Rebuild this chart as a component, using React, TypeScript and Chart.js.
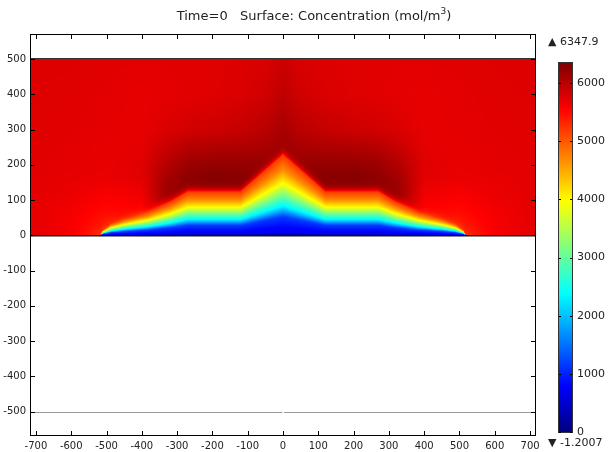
import React, { useEffect, useRef } from 'react';
import { Chart, registerables } from 'chart.js';

Chart.register(...registerables);

// ---- Text ----
const TITLE_MAIN = 'Time=0   Surface: Concentration (mol/m';
const TITLE_SUP = '3';
const TITLE_END = ')';
const MAX_LABEL = '▲ 6347.9';
const MIN_LABEL = '▼ -1.2007';

// ---- Axes ----
const X_MIN = -714;
const X_MAX = 714;
const Y_MIN = -566;
const Y_MAX = 568;
const X_TICKS = [-700, -600, -500, -400, -300, -200, -100, 0, 100, 200, 300, 400, 500, 600, 700];
const Y_TICKS = [-500, -400, -300, -200, -100, 0, 100, 200, 300, 400, 500];

// ---- Geometry (domain edges) ----
const DOMAIN_TOP = 500;
const DOMAIN_BOTTOM = 0;
const LOWER_EDGE = -500;

// ---- Colour range ----
const C_MIN = -1.2007;
const C_MAX = 6347.9;
const COLORBAR_TICKS = [0, 1000, 2000, 3000, 4000, 5000, 6000];

// ---- Depleted zone: height of outer (red/orange) level vs |x| ----
const ENVELOPE_X = [0, 120, 270, 318, 384, 451, 488, 512, 518];
const ENVELOPE_H = [228, 123, 123, 95, 66, 47, 33, 14, 0];

// ---- Concentration across the depleted zone, vs relative height y/h ----
const PROFILE_S = [0, 0.04, 0.12, 0.23, 0.36, 0.65, 0.82, 1.0];
const PROFILE_C = [0, 700, 850, 1150, 2300, 3970, 4700, 5200];

// ---- Concentration above the depleted zone (grid, |x| by y) ----
const FIELD_X = [0, 40, 120, 200, 270, 330, 400, 500, 600, 714];
const FIELD_Y = [0, 60, 120, 160, 200, 250, 300, 400, 500];
const FIELD_C = [
  [6300, 6300, 6330, 6345, 6330, 6120, 5580, 5300, 5600, 5720],
  [6300, 6300, 6330, 6345, 6330, 6120, 5560, 5480, 5620, 5720],
  [6300, 6300, 6330, 6345, 6320, 6170, 5650, 5600, 5680, 5730],
  [6300, 6280, 6310, 6330, 6270, 6120, 5720, 5680, 5700, 5740],
  [6260, 6220, 6210, 6220, 6170, 6020, 5750, 5700, 5720, 5740],
  [6170, 6100, 6060, 6040, 6010, 5890, 5720, 5700, 5730, 5750],
  [6100, 6000, 5910, 5860, 5830, 5780, 5700, 5720, 5740, 5750],
  [5960, 5860, 5780, 5750, 5740, 5720, 5700, 5730, 5750, 5760],
  [5880, 5800, 5760, 5750, 5750, 5740, 5740, 5750, 5760, 5760],
];

const FONT = '"DejaVu Sans", "Liberation Sans", sans-serif';
const TEXT_COLOR = '#222';

function interp1(xs: number[], ys: number[], x: number): number {
  if (x <= xs[0]) return ys[0];
  const n = xs.length;
  if (x >= xs[n - 1]) return ys[n - 1];
  for (let i = 0; i < n - 1; i++) {
    if (x <= xs[i + 1]) {
      const t = (x - xs[i]) / (xs[i + 1] - xs[i]);
      return ys[i] + t * (ys[i + 1] - ys[i]);
    }
  }
  return ys[n - 1];
}

function locate(xs: number[], x: number): [number, number] {
  const n = xs.length;
  if (x <= xs[0]) return [0, 0];
  if (x >= xs[n - 1]) return [n - 2, 1];
  for (let i = 0; i < n - 1; i++) {
    if (x <= xs[i + 1]) return [i, (x - xs[i]) / (xs[i + 1] - xs[i])];
  }
  return [n - 2, 1];
}

function bilinear(x: number, y: number): number {
  const [i, tx] = locate(FIELD_X, x);
  const [j, ty] = locate(FIELD_Y, y);
  const a = FIELD_C[j][i] * (1 - tx) + FIELD_C[j][i + 1] * tx;
  const b = FIELD_C[j + 1][i] * (1 - tx) + FIELD_C[j + 1][i + 1] * tx;
  return a * (1 - ty) + b * ty;
}

function concentration(x: number, y: number): number {
  const ax = Math.abs(x);
  const xEnd = ENVELOPE_X[ENVELOPE_X.length - 1];
  const h = ax < xEnd ? interp1(ENVELOPE_X, ENVELOPE_H, ax) : 0;
  if (h > 0 && y < h) return interp1(PROFILE_S, PROFILE_C, y / h);
  const g = bilinear(ax, y);
  const edge = PROFILE_C[PROFILE_C.length - 1];
  const dist = h > 0 ? y - h : Math.hypot(ax - xEnd, y);
  return g + (edge - g) * Math.exp(-dist / 9);
}

function clamp01(v: number) {
  return v < 0 ? 0 : v > 1 ? 1 : v;
}

function jet(c: number): [number, number, number] {
  const t = clamp01((c - C_MIN) / (C_MAX - C_MIN));
  const r = clamp01(1.5 - Math.abs(4 * t - 3));
  const g = clamp01(1.5 - Math.abs(4 * t - 2));
  const b = clamp01(1.5 - Math.abs(4 * t - 1));
  return [Math.round(r * 255), Math.round(g * 255), Math.round(b * 255)];
}

const surfacePlugin = {
  id: 'surfacePlugin',
  beforeDatasetsDraw(chart: any) {
    const { ctx, chartArea } = chart;
    const xs = chart.scales.x;
    const ys = chart.scales.y;
    const left = Math.round(chartArea.left);
    const right = Math.round(chartArea.right);
    const top = Math.round(ys.getPixelForValue(DOMAIN_TOP));
    const bottom = Math.round(ys.getPixelForValue(DOMAIN_BOTTOM));
    const w = right - left;
    const h = bottom - top;
    const img = ctx.createImageData(w, h);
    for (let py = 0; py < h; py++) {
      const yv = ys.getValueForPixel(top + py + 0.5);
      for (let px = 0; px < w; px++) {
        const xv = xs.getValueForPixel(left + px + 0.5);
        const [r, g, b] = jet(concentration(xv, yv));
        const k = (py * w + px) * 4;
        img.data[k] = r;
        img.data[k + 1] = g;
        img.data[k + 2] = b;
        img.data[k + 3] = 255;
      }
    }
    const off = document.createElement('canvas');
    off.width = w;
    off.height = h;
    off.getContext('2d')!.putImageData(img, 0, 0);
    ctx.save();
    ctx.drawImage(off, left, top);
    ctx.restore();
  },
  afterDraw(chart: any) {
    const { ctx, chartArea } = chart;
    const xs = chart.scales.x;
    const ys = chart.scales.y;
    const L = chartArea.left;
    const R = chartArea.right;
    const T = chartArea.top;
    const B = chartArea.bottom;
    ctx.save();

    // domain edges
    const yTop = ys.getPixelForValue(DOMAIN_TOP);
    ctx.strokeStyle = '#333';
    ctx.lineWidth = 1;
    ctx.beginPath();
    ctx.moveTo(L, Math.round(yTop) - 0.5);
    ctx.lineTo(R, Math.round(yTop) - 0.5);
    ctx.stroke();

    const y0 = Math.round(ys.getPixelForValue(DOMAIN_BOTTOM));
    ctx.strokeStyle = '#111';
    ctx.lineWidth = 1;
    ctx.beginPath();
    ctx.moveTo(L, y0 + 0.5);
    ctx.lineTo(R, y0 + 0.5);
    ctx.stroke();
    ctx.strokeStyle = '#8a8a8a';
    ctx.beginPath();
    ctx.moveTo(L, y0 + 1.5);
    ctx.lineTo(R, y0 + 1.5);
    ctx.stroke();

    const yl = Math.round(ys.getPixelForValue(LOWER_EDGE)) + 0.5;
    const xMid = xs.getPixelForValue(0);
    ctx.strokeStyle = '#9a9a9a';
    ctx.beginPath();
    ctx.moveTo(L, yl);
    ctx.lineTo(xMid - 0.5, yl);
    ctx.moveTo(xMid + 1, yl);
    ctx.lineTo(R, yl);
    ctx.stroke();

    // frame
    ctx.strokeStyle = '#000';
    ctx.lineWidth = 1;
    ctx.strokeRect(Math.round(L) - 0.5, Math.round(T) - 0.5, Math.round(R - L) + 1, Math.round(B - T) + 1);

    // inward ticks on all sides
    const tl = 4;
    ctx.beginPath();
    xs.ticks.forEach((t: any) => {
      const px = Math.round(xs.getPixelForValue(t.value)) + 0.5;
      ctx.moveTo(px, B);
      ctx.lineTo(px, B - tl);
      ctx.moveTo(px, T);
      ctx.lineTo(px, T + tl);
    });
    ys.ticks.forEach((t: any) => {
      const py = Math.round(ys.getPixelForValue(t.value)) + 0.5;
      ctx.moveTo(L, py);
      ctx.lineTo(L + tl, py);
      ctx.moveTo(R, py);
      ctx.lineTo(R - tl, py);
    });
    ctx.stroke();

    // title (with superscript)
    ctx.fillStyle = TEXT_COLOR;
    ctx.textBaseline = 'alphabetic';
    ctx.textAlign = 'left';
    const mainFont = `13px ${FONT}`;
    const supFont = `9px ${FONT}`;
    ctx.font = mainFont;
    const w1 = ctx.measureText(TITLE_MAIN).width;
    const w3 = ctx.measureText(TITLE_END).width;
    ctx.font = supFont;
    const w2 = ctx.measureText(TITLE_SUP).width;
    const total = w1 + w2 + w3;
    const tx = 314 - total / 2;
    const base = 20;
    ctx.font = mainFont;
    ctx.fillText(TITLE_MAIN, tx, base);
    ctx.font = supFont;
    ctx.fillText(TITLE_SUP, tx + w1, base - 6);
    ctx.font = mainFont;
    ctx.fillText(TITLE_END, tx + w1 + w2, base);

    // colour bar
    const cbL = 559;
    const cbR = 572;
    const cbT = 63;
    const cbB = 432;
    const valToY = (v: number) => cbB - ((v - C_MIN) / (C_MAX - C_MIN)) * (cbB - cbT);
    for (let py = cbT; py < cbB; py++) {
      const v = C_MAX - ((py - cbT + 0.5) / (cbB - cbT)) * (C_MAX - C_MIN);
      const [r, g, b] = jet(v);
      ctx.fillStyle = `rgb(${r},${g},${b})`;
      ctx.fillRect(cbL, py, cbR - cbL, 1);
    }
    ctx.strokeStyle = '#333';
    ctx.strokeRect(cbL - 0.5, cbT - 0.5, cbR - cbL + 1, cbB - cbT + 1);
    ctx.font = `11px ${FONT}`;
    ctx.textAlign = 'left';
    ctx.textBaseline = 'middle';
    ctx.beginPath();
    COLORBAR_TICKS.forEach((v) => {
      const py = Math.round(valToY(v)) + 0.5;
      ctx.moveTo(cbL, py);
      ctx.lineTo(cbL + 2, py);
      ctx.moveTo(cbR, py);
      ctx.lineTo(cbR - 2, py);
    });
    ctx.strokeStyle = '#000';
    ctx.stroke();
    ctx.fillStyle = TEXT_COLOR;
    COLORBAR_TICKS.forEach((v) => {
      ctx.fillText(String(v), 577, valToY(v));
    });
    ctx.fillText(MAX_LABEL, 548, 42);
    ctx.fillText(MIN_LABEL, 548, 443);
    ctx.restore();
  },
};

export default function App() {
  const ref = useRef<HTMLCanvasElement | null>(null);
  useEffect(() => {
    if (!ref.current) return;
    const tickFont = { family: FONT, size: 10 };
    const chart = new Chart(ref.current, {
      type: 'scatter',
      data: { datasets: [{ data: [], pointRadius: 0 }] },
      options: {
        responsive: false,
        animation: false,
        layout: { padding: { left: 0, right: 76, top: 35, bottom: 0 } },
        plugins: {
          legend: { display: false },
          tooltip: { enabled: false },
          title: { display: false },
        },
        scales: {
          x: {
            type: 'linear',
            min: X_MIN,
            max: X_MAX,
            afterBuildTicks: (s: any) => {
              s.ticks = X_TICKS.map((v) => ({ value: v }));
            },
            afterFit: (s: any) => {
              s.height = 17;
            },
            grid: { display: false, drawTicks: false },
            border: { display: false },
            ticks: { font: tickFont, color: TEXT_COLOR, padding: 5, maxRotation: 0, autoSkip: false },
          },
          y: {
            type: 'linear',
            min: Y_MIN,
            max: Y_MAX,
            afterBuildTicks: (s: any) => {
              s.ticks = Y_TICKS.map((v) => ({ value: v }));
            },
            afterFit: (s: any) => {
              s.width = 31;
            },
            grid: { display: false, drawTicks: false },
            border: { display: false },
            ticks: { font: tickFont, color: TEXT_COLOR, padding: 5, autoSkip: false },
          },
        },
      } as any,
      plugins: [surfacePlugin],
    });
    return () => chart.destroy();
  }, []);
  return (
    <div style={{ position: 'absolute', left: 0, top: 0, width: 611, height: 452, background: '#fff' }}>
      <canvas ref={ref} width={611} height={452} style={{ display: 'block' }} />
    </div>
  );
}
